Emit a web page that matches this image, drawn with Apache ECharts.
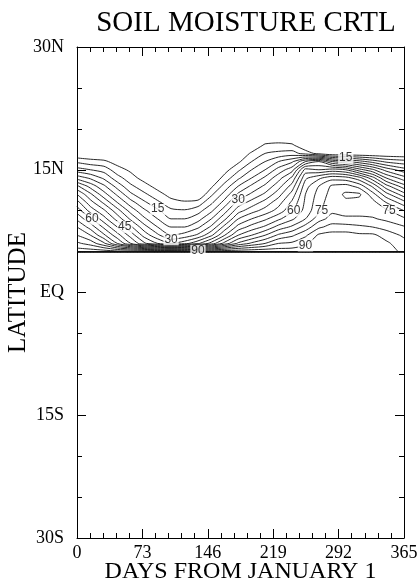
<!DOCTYPE html>
<html><head><meta charset="utf-8">
<script src="https://cdn.jsdelivr.net/npm/echarts@6/dist/echarts.min.js"></script>
<style>html,body{margin:0;padding:0;background:#fff}#c{width:419px;height:582px}</style>
</head><body><div id="c"></div>
<script>
// ---- data (soil moisture, days x latitude) ----
const days = [0,15,30,45,60,75,90,105,120,135,150,165,180,195,210,225,240,255,270,285,300,315,330,345,365];
const lats = [4.995,5,6,7,8,9,10,11,12,13,14,15,16,17,18,19];
const coast = [0,0,0,0,0,0,0,0,0,0,0,0,0,0,0,0,0,0,0,0,0,0,0,0,0];
const lat05 = [93,93,93,92,92,92,92,93,93,94,94,94,94,94,94,93,93,93,94,95,95,94,93,92,89];
const lat06 = [86,83,76,65,55,46,40,35,38,44,52,62,71,76,80,85,86,89,93,94,94,94,93,91,87];
const lat07 = [80,75,66,57,48,38,31,25,27,31,39,50,60,65,70,76,79,84,91,92,92,91,91,88,84];
const lat08 = [75,68,59,50,41,32,25,20,20,24,31,42,52,57,61,67,71,77,84,87,87,86,85,83,80.5];
const lat09 = [69,61,52,43,34,26,20,15,15,18,25,34,45,50,54,59,64,70,78,82,81,81,80.5,79,76];
const lat10 = [63,53,46,37,28,21,16,11,10.5,13,19,28,38,43,47,52,59,67,74,79,78,78,78,76,70];
const lat11 = [57,47,39,30,22,16,11,7,6,7,14,22,32,37,42,48,56,66,73,78,79,78,77,70,62];
const lat12 = [50,41,32,24,16,11,7,3,0,0,9,17,26,31,36,43,52,65,72,77,81,81,72,62,52];
const lat13 = [41,33,26,18,11,7,3,0,0,0,4,12,20,26,31,38,47,63,70,76,77,73,64,52,42];
const lat14 = [28,24,19,12,7,3,0,0,0,0,0,7,14,20,26,33,41,59,64,68,67,62,52,40,32];
const lat15 = [17,15,13,7,4,0,0,0,0,0,0,3,9,15,20,27,33,52,50,52,50,42,36,28,22];
const lat16 = [9,7,6,3,0,0,0,0,0,0,0,0,4,10,15,20,24,35,40,30,26,22,18,14,12];
const lat17 = [0,0,0,0,0,0,0,0,0,0,0,0,0,6,10,11,12,8,3,0,0,0,0,0,0];
const lat18 = [0,0,0,0,0,0,0,0,0,0,0,0,0,0,6,7,6,0,0,0,0,0,0,0,0];
const lat19 = [0,0,0,0,0,0,0,0,0,0,0,0,0,0,0,0,0,0,0,0,0,0,0,0,0];
const levels = [5,10,15,20,25,30,35,40,45,50,55,60,65,70,75,80,85,90,95];
// contour labels: level and approximate spot [day, lat]
const labelLevels = [15,30,45,60,90,30,60,75,15,75,90];
const labelDays   = [92,100,54,20,130,185,243,275,297,350,251];
const labelLats   = [10.3,6.3,8.0,9.1,5.3,11.7,10.3,10.3,16.4,9.5,5.8];
const yTickText = {'30':'30N','15':'15N','0':'EQ','-15':'15S','-30':'30S'};

const grid = [coast,lat05,lat06,lat07,lat08,lat09,lat10,lat11,lat12,lat13,lat14,lat15,lat16,lat17,lat18,lat19];

function contourLines(level){
  const L = level + 1e-7;
  const R = lats.length, C = days.length;
  const segs = [];
  const pt = {};
  function edgePoint(key, x0,y0,v0,x1,y1,v1){
    if(!pt[key]){ const t=(L-v0)/(v1-v0); pt[key]=[x0+t*(x1-x0), y0+t*(y1-y0)]; }
    return key;
  }
  for(let r=0;r<R-1;r++){
    for(let c=0;c<C-1;c++){
      const v0=grid[r][c], v1=grid[r][c+1], v2=grid[r+1][c+1], v3=grid[r+1][c];
      const x0=days[c], x1=days[c+1], y0=lats[r], y1=lats[r+1];
      const idx=(v0>L?1:0)|(v1>L?2:0)|(v2>L?4:0)|(v3>L?8:0);
      if(idx===0||idx===15) continue;
      const e = {};
      if((v0>L)!==(v1>L)) e.B=edgePoint('h'+r+'_'+c, x0,y0,v0, x1,y0,v1);
      if((v1>L)!==(v2>L)) e.R=edgePoint('v'+r+'_'+(c+1), x1,y0,v1, x1,y1,v2);
      if((v3>L)!==(v2>L)) e.T=edgePoint('h'+(r+1)+'_'+c, x0,y1,v3, x1,y1,v2);
      if((v0>L)!==(v3>L)) e.L=edgePoint('v'+r+'_'+c, x0,y0,v0, x0,y1,v3);
      const ks = Object.keys(e);
      if(ks.length===2){ segs.push([e[ks[0]], e[ks[1]]]); }
      else if(ks.length===4){
        const ctr=(v0+v1+v2+v3)/4 > L;
        if(idx===5){
          if(ctr){ segs.push([e.B,e.R]); segs.push([e.T,e.L]); }
          else { segs.push([e.B,e.L]); segs.push([e.R,e.T]); }
        } else {
          if(ctr){ segs.push([e.B,e.L]); segs.push([e.R,e.T]); }
          else { segs.push([e.B,e.R]); segs.push([e.T,e.L]); }
        }
      }
    }
  }
  const map=new Map();
  segs.forEach((s,i)=>s.forEach(k=>{ if(!map.has(k)) map.set(k,[]); map.get(k).push(i); }));
  const used=new Array(segs.length).fill(false);
  const lines=[];
  for(let i=0;i<segs.length;i++){
    if(used[i]) continue; used[i]=true;
    const keys=[segs[i][0], segs[i][1]];
    let key=segs[i][1];
    while(true){
      const j=(map.get(key)||[]).find(n=>!used[n]); if(j===undefined) break;
      used[j]=true; key = segs[j][0]===key ? segs[j][1] : segs[j][0]; keys.push(key);
    }
    key=segs[i][0];
    while(true){
      const j=(map.get(key)||[]).find(n=>!used[n]); if(j===undefined) break;
      used[j]=true; key = segs[j][0]===key ? segs[j][1] : segs[j][0]; keys.unshift(key);
    }
    lines.push(keys.map(k=>pt[k]));
  }
  return lines;
}

const byLevel = {};
const series = [];
levels.forEach(lv=>{
  const lines = contourLines(lv);
  byLevel[lv]=lines;
  const data=[];
  lines.forEach(pl=>{ pl.forEach(p=>data.push(p)); data.push([NaN,NaN]); });
  series.push({type:'line', data, symbol:'none', smooth:0.25, connectNulls:false, silent:true,
    lineStyle:{color:'#111', width:0.9}, xAxisIndex:0, yAxisIndex:0, z:2});
});

// snap labels onto their contour
const sx = 327/365, sy = 491/60;
const labelData = labelLevels.map((lv,i)=>{
  let best=null, bd=1e18;
  (byLevel[lv]||[]).forEach(pl=>pl.forEach(p=>{
    const d=Math.pow((p[0]-labelDays[i])*sx,2)+Math.pow((p[1]-labelLats[i])*sy,2);
    if(d<bd){bd=d;best=p;}
  }));
  if(!best) best=[labelDays[i],labelLats[i]];
  return [best[0],best[1],String(lv)];
});
series.push({type:'scatter', data:labelData, symbolSize:0, silent:true, z:10,
  label:{show:true, position:'inside', formatter:p=>p.value[2], color:'#000', fontSize:12,
    fontFamily:'Liberation Sans, Arial, sans-serif', backgroundColor:'#fff', padding:[0,1]}});

const serif = 'Liberation Serif, DejaVu Serif, serif';
function xAx(pos, showLabel){
  return {type:'value', min:0, max:365, interval:73, position:pos,
    axisLine:{show:true, onZero:false, lineStyle:{color:'#000', width:1}},
    axisTick:{show:true, inside:true, length:9, lineStyle:{color:'#000'}},
    minorTick:{show:true, splitNumber:5, length:5, lineStyle:{color:'#000'}},
    splitLine:{show:false}, minorSplitLine:{show:false},
    axisLabel:{show:showLabel, color:'#000', fontFamily:serif, fontSize:18, margin:6,
      showMinLabel:true, showMaxLabel:true},
    name: showLabel ? 'DAYS FROM JANUARY 1' : '', nameLocation:'middle', nameGap:22,
    nameMoveOverlap:false,
    nameTextStyle:{color:'#000', fontFamily:serif, fontSize:24}};
}
function yAx(pos, showLabel){
  return {type:'value', min:-30, max:30, interval:15, position:pos,
    axisLine:{show:true, onZero:false, lineStyle:{color:'#000', width:1}},
    axisTick:{show:true, inside:true, length:9, lineStyle:{color:'#000'}},
    minorTick:{show:true, splitNumber:3, length:5, lineStyle:{color:'#000'}},
    splitLine:{show:false}, minorSplitLine:{show:false},
    axisLabel:{show:showLabel, color:'#000', fontFamily:serif, fontSize:18, margin:13,
      showMinLabel:true, showMaxLabel:true, formatter:v=>yTickText[String(v)]||''},
    name: showLabel ? 'LATITUDE' : '', nameLocation:'middle', nameGap:46,
    nameMoveOverlap:false,
    nameTextStyle:{color:'#000', fontFamily:serif, fontSize:25}};
}

const chart = echarts.init(document.getElementById('c'), null, {renderer:'canvas'});
chart.setOption({
  animation:false,
  backgroundColor:'#fff',
  title:{text:'SOIL MOISTURE CRTL', left:241, top:4, textAlign:'center',
    textStyle:{fontFamily:serif, fontSize:29, fontWeight:'normal', color:'#000'}},
  grid:{left:77, right:15, top:47, bottom:44, containLabel:false, outerBoundsMode:'none'},
  xAxis:[xAx('bottom',true), xAx('top',false)],
  yAxis:[yAx('left',true), yAx('right',false)],
  series
});
</script></body></html>
